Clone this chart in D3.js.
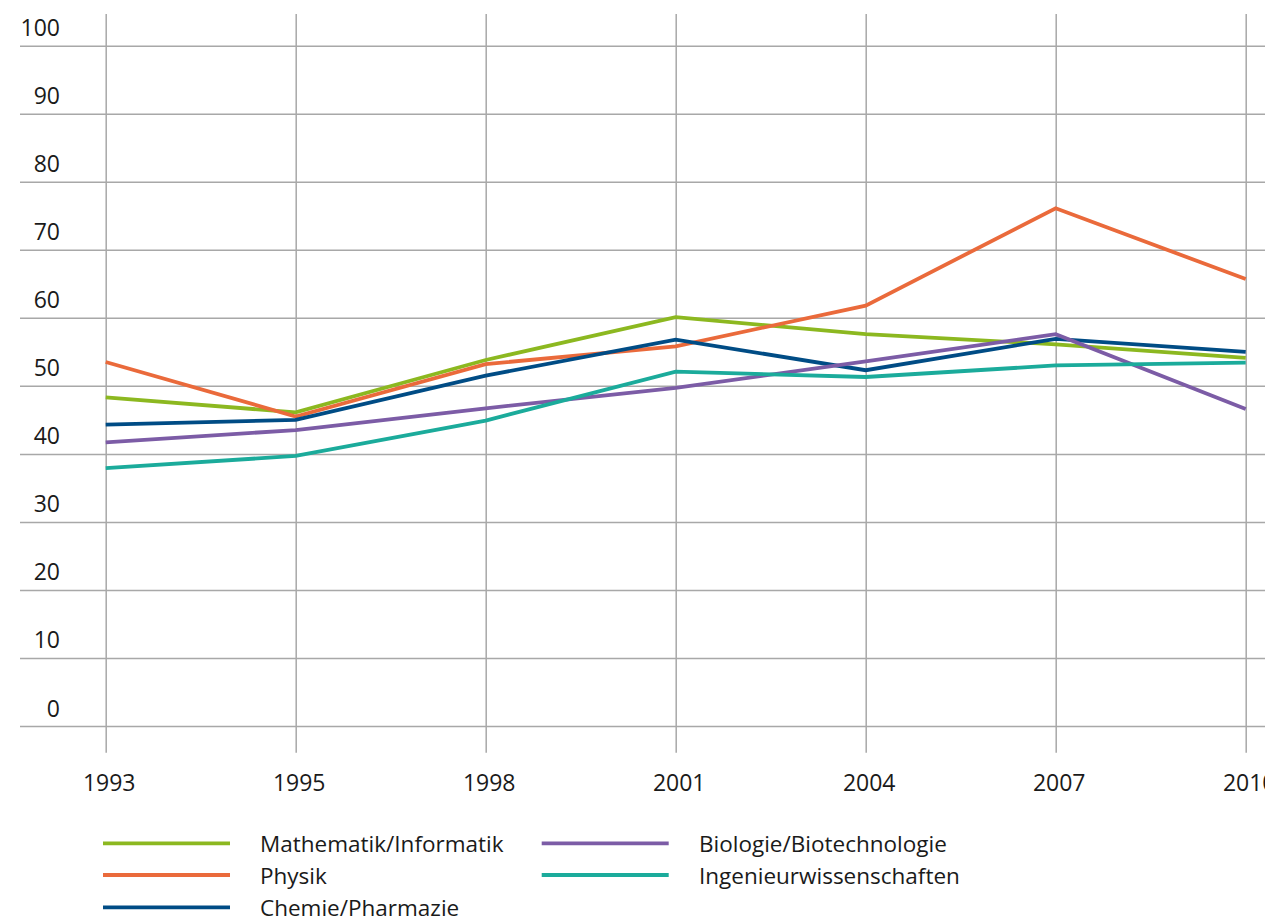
<!DOCTYPE html>
<html>
<head>
<meta charset="utf-8">
<script src="https://cdn.jsdelivr.net/npm/d3@7"></script>
<style>
  body { margin: 0; background: #fff; }
  svg { display: block; font-family: "Open Sans", sans-serif; }
</style>
</head>
<body>
<div id="chart"></div>
<script>
// Daten
const years = ["1993", "1995", "1998", "2001", "2004", "2007", "2010"]
const yTicks = [0, 10, 20, 30, 40, 50, 60, 70, 80, 90, 100]
const seriesNames = ["Mathematik/Informatik", "Physik", "Chemie/Pharmazie", "Biologie/Biotechnologie", "Ingenieurwissenschaften"]
const mathe = [48.3, 46.1, 53.8, 60.1, 57.6, 56.1, 54.1]
const physik = [53.5, 45.5, 53.2, 55.8, 61.8, 76.1, 65.7]
const chemie = [44.3, 45.0, 51.5, 56.8, 52.3, 56.9, 55.0]
const bio = [41.7, 43.5, 46.7, 49.7, 53.6, 57.6, 46.6]
const ingenieur = [37.9, 39.7, 44.9, 52.1, 51.3, 53.0, 53.4]
const seriesValues = [mathe, physik, chemie, bio, ingenieur]
const colors = ["#8cb820", "#ea6a3b", "#004c85", "#7c5ca6", "#1bab9b"]

const width = 1265, height = 917
const svg = d3.select("#chart").append("svg")
    .attr("width", width)
    .attr("height", height)

let x = d3.scalePoint().domain(years).range([105.7, 1245.7])
let y = d3.scaleLinear().domain([0, 100]).range([726, 45.7])

const gridColor = "#a8a8a8"
const textColor = "#1a1a1a"

// horizontale Gitterlinien + y-Beschriftung
let yAxis = svg.append("g")
    .attr("transform", "translate(20,0)")
    .call(d3.axisLeft(y).tickValues(yTicks).tickSize(-(width - 20)).tickFormat(d3.format("d")))
yAxis.select(".domain").remove()
yAxis.selectAll(".tick line").attr("stroke", gridColor).attr("stroke-width", 1.5)
yAxis.selectAll(".tick text")
    .attr("x", 40)
    .attr("dy", -10)
    .attr("text-anchor", "end")
    .attr("font-size", 23)
    .attr("font-family", "Open Sans")
    .attr("fill", textColor)

// vertikale Gitterlinien + x-Beschriftung
let xAxis = svg.append("g")
    .attr("transform", "translate(0,752.7)")
    .call(d3.axisBottom(x).tickSize(-(752.7 - 14)))
xAxis.select(".domain").remove()
xAxis.selectAll(".tick line").attr("stroke", gridColor).attr("stroke-width", 1.5)
xAxis.selectAll(".tick text")
    .attr("y", 38)
    .attr("dy", 0)
    .attr("dx", 3)
    .attr("font-size", 23)
    .attr("font-family", "Open Sans")
    .attr("fill", textColor)

// Linien
let line = d3.line()
    .x((d, i) => x(years[i]))
    .y((d) => y(d))
svg.append("g")
    .selectAll("path")
    .data(seriesValues)
    .enter()
    .append("path")
    .attr("fill", "none")
    .attr("stroke", (d, i) => colors[i])
    .attr("stroke-width", 3.8)
    .attr("stroke-linejoin", "miter")
    .attr("d", line)

// Legende
let legendPos = [
    { lx: 103, tx: 260, y: 843.3 },
    { lx: 103, tx: 260, y: 875 },
    { lx: 103, tx: 260, y: 907.3 },
    { lx: 541.7, tx: 699, y: 843.3 },
    { lx: 541.7, tx: 699, y: 875 }
]
let legend = svg.append("g")
seriesNames.forEach((name, i) => {
    let p = legendPos[i]
    legend.append("line")
        .attr("x1", p.lx)
        .attr("x2", p.lx + 127)
        .attr("y1", p.y)
        .attr("y2", p.y)
        .attr("stroke", colors[i])
        .attr("stroke-width", 3.8)
    legend.append("text")
        .attr("x", p.tx)
        .attr("y", p.y + 8.5)
        .attr("font-size", 22.5)
        .attr("fill", textColor)
        .text(name)
})
</script>
</body>
</html>
